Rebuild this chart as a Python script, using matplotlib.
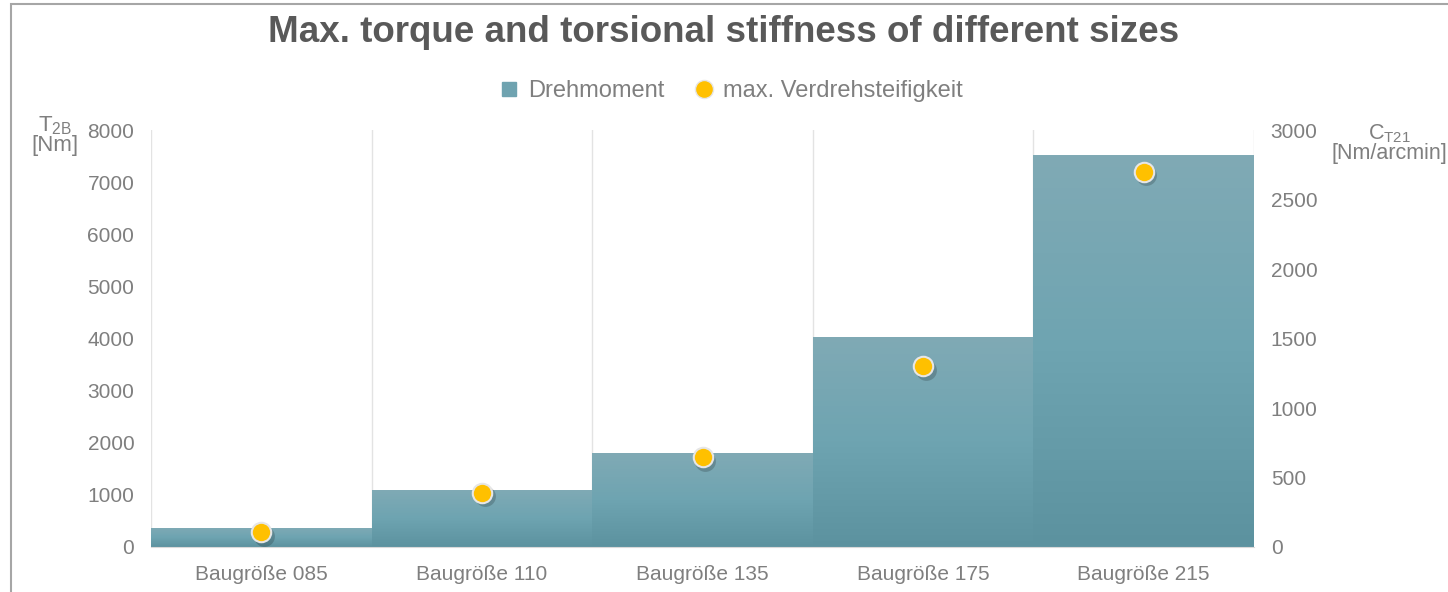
import numpy as np
import matplotlib
matplotlib.use("Agg")
from matplotlib import pyplot as plt
from matplotlib.lines import Line2D
from matplotlib.patches import Rectangle
from matplotlib.colors import LinearSegmentedColormap

plt.rcParams['font.family'] = ['Liberation Sans', 'DejaVu Sans']
plt.rcParams['mathtext.fontset'] = 'custom'
plt.rcParams['mathtext.rm'] = 'Liberation Sans'

# data
categories = ['Baugröße 085', 'Baugröße 110', 'Baugröße 135', 'Baugröße 175', 'Baugröße 215']
torque = [370, 1100, 1800, 4030, 7520]          # T2B [Nm]
stiffness = [105, 390, 645, 1300, 2700]         # CT21 [Nm/arcmin]

gray = '#7f7f7f'
dark = '#595959'

fig = plt.figure(figsize=(14.48, 5.92), dpi=100)
ax = fig.add_axes([151/1448, 1 - 547/592, (1254 - 151)/1448, (547 - 130)/592])
ax2 = ax.twinx()

x = np.arange(len(categories))
bars = ax.bar(x, torque, width=1.0, color='#6fa3b0', linewidth=0, zorder=2)

# vertical gradient for the bars
grad = np.linspace(0, 1, 256).reshape(-1, 1)
cmap = LinearSegmentedColormap.from_list('g', ['#5c929f', '#6ea4b1', '#80aab5'])
for b in bars:
    im = ax.imshow(grad, cmap=cmap, aspect='auto', origin='lower',
                   extent=[b.get_x(), b.get_x() + b.get_width(), 0, b.get_height()],
                   zorder=2.1)
    im.set_clip_path(b)

ax.set_xlim(-0.5, len(categories) - 0.5)
ax.set_ylim(0, 8000)
ax.set_yticks(np.arange(0, 8001, 1000))
ax2.set_ylim(0, 3000)
ax2.set_yticks(np.arange(0, 3001, 500))

# vertical grid lines between categories
for xb in np.arange(-0.5, len(categories) - 0.4, 1.0):
    ax.axvline(xb, color='#e3e3e3', lw=1, zorder=1)

# shadow + markers on secondary axis
ax2.plot(x + 0.012, np.array(stiffness) - 25, 'o', ms=15, color='#000000', alpha=0.18,
         mec='none', zorder=3)
ax2.plot(x, stiffness, 'o', ms=14, color='#ffc000', mec='#e6e6e6', mew=1.5, zorder=4)

ax.set_xticks(x)
ax.set_xticklabels(categories)
for a in (ax, ax2):
    for s in a.spines.values():
        s.set_visible(False)
    a.tick_params(length=0, labelsize=15, colors=gray, pad=12)
ax.tick_params(axis='x', pad=13)
ax.spines['bottom'].set_visible(True)
ax.spines['bottom'].set_color('#d9d9d9')
ax.set_zorder(ax2.get_zorder() - 1)
ax2.patch.set_visible(False)

# title and legend
fig.text(0.5, 1 - 32/592, 'Max. torque and torsional stiffness of different sizes',
         ha='center', va='center', fontsize=26.5, fontweight='bold', color=dark)
handles = [Line2D([], [], marker='s', ls='none', ms=10, color='#6fa3b0'),
           Line2D([], [], marker='o', ls='none', ms=13, color='#ffc000', mec='#e6e6e6')]
fig.legend(handles, ['Drehmoment', 'max. Verdrehsteifigkeit'], loc='center',
           bbox_to_anchor=(0.5, 1 - 91/592), ncol=2, frameon=False, fontsize=17,
           labelcolor=gray, handletextpad=-0.2, columnspacing=0.7)

# axis titles
fig.text(55/1448, 1 - 135/592, r'T$_{\mathregular{2B}}$' + '\n[Nm]', ha='center',
         va='center', fontsize=16, color=gray, linespacing=0.9)
fig.text(1389/1448, 1 - 143/592, r'C$_{\mathregular{T21}}$' + '\n[Nm/arcmin]', ha='center',
         va='center', fontsize=15.5, color=gray, linespacing=0.9)

# outer frame
fig.patches.append(Rectangle((11/1448, -0.1), 1.2, 1.1 - 4/592, transform=fig.transFigure,
                             fill=False, ec='#a6a6a6', lw=1.5))

fig.savefig('out.png', dpi=100)
